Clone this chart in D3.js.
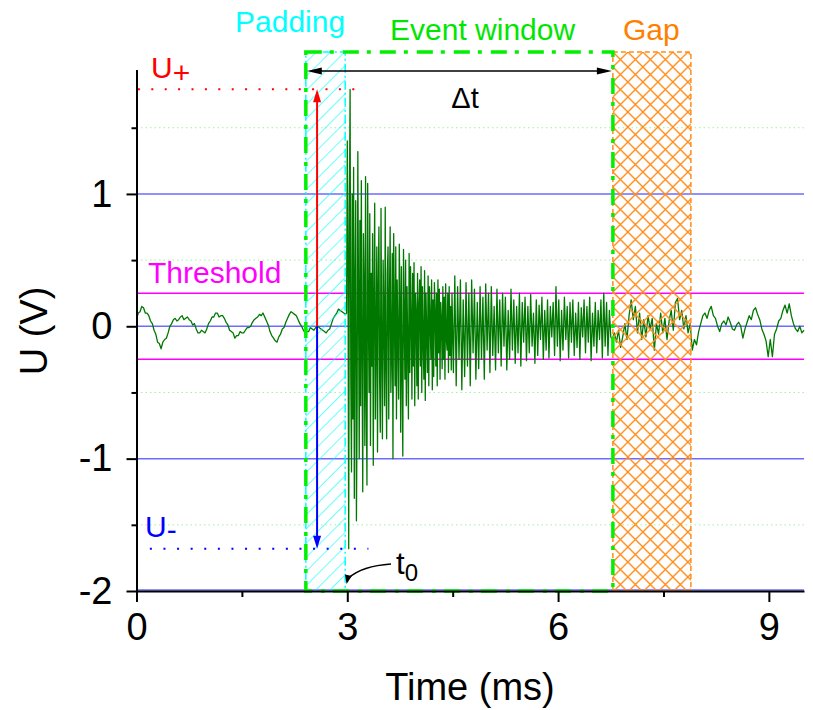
<!DOCTYPE html>
<html><head><meta charset="utf-8">
<script src="https://cdn.jsdelivr.net/npm/d3@7"></script>
<style>
body{margin:0;background:#fff}
svg{display:block}
text{font-family:"Liberation Sans",Arial,Helvetica,sans-serif}
</style>
</head><body>
<svg id="c" width="813" height="710"></svg>
<script>
// ---------- data ----------
const xMajorTicks = [0, 3, 6, 9];
const xMinorTicks = [1.5, 4.5, 7.5];
const yMajorTicks = [-2, -1, 0, 1];
const yMinorTicks = [-1.5, -0.5, 0.5, 1.5];
const thresholdLevels = [0.25, -0.25];
const uPlusLevel = 1.79;
const uMinusLevel = -1.68;
const uPlusSpan = [0.02, 3.14];
const uMinusSpan = [0.19, 3.30];
const paddingRange = [2.41, 2.97];
const eventRange = [2.41, 6.78];
const gapRange = [6.78, 7.89];
const t0 = 2.99;
const levelArrowTime = 2.57;

const preStart = 0, preStep = 0.025;
const preValues = [
  0.05, 0.10, 0.11, 0.15, 0.14, 0.10, 0.10, 0.08, 0.04, 0.02,
  -0.03, -0.06, -0.12, -0.13, -0.17, -0.12, -0.10, -0.09, -0.05, 0.00,
  0.02, 0.05, 0.06, 0.04, 0.05, 0.07, 0.08, 0.05, 0.06, 0.07,
  0.05, 0.04, 0.01, 0.02, -0.02, -0.05, -0.05, -0.03, -0.04, -0.05,
  -0.02, 0.02, 0.04, 0.07, 0.07, 0.10, 0.10, 0.07, 0.08, 0.08,
  0.06, 0.03, 0.01, -0.03, -0.04, -0.05, -0.09, -0.07, -0.07, -0.04,
  -0.05, -0.05, -0.03, -0.01, -0.01, 0.00, 0.03, 0.05, 0.06, 0.07,
  0.09, 0.08, 0.10, 0.07, 0.04, 0.01, -0.04, -0.07, -0.09, -0.11,
  -0.12, -0.08, -0.06, -0.02, -0.01, 0.03, 0.06, 0.09, 0.11, 0.10,
  0.09, 0.08, 0.05, 0.02, 0.00, -0.03, -0.05, -0.04, -0.04, -0.01,
  -0.02, -0.03, -0.01, 0.00, -0.01, -0.02, -0.03, -0.04, -0.05, -0.03,
  -0.02, 0.02, 0.06, 0.08, 0.10, 0.13, 0.12, 0.11, 0.10, 0.09
];
const burstStart = 2.99, burstStep = 0.01;
const burstValues = [
  0.10, 1.40, 0.60, -1.68, 0.90, 1.79, -0.40, -1.10, 1.00, -0.70,
  1.20, -1.30, 0.30, 0.95, -1.47, -0.60, 1.32, 0.20, -1.00, 0.80,
  -0.60, 1.10, -0.20, -1.25, 0.70, 0.30, -0.90, 1.13, -0.50, -1.20,
  1.08, 0.10, -0.50, 0.85, -0.90, 0.40, -0.30, 0.70, -1.05, 0.20,
  0.93, -0.70, -0.10, 0.60, -0.95, 0.30, 0.75, -0.40, -0.80, 0.89,
  -0.20, -0.85, 0.50, 0.10, -0.60, 0.90, -0.30, -0.85, 0.40, 0.60,
  -0.70, 0.20, 0.75, -0.50, -0.20, 0.55, -1.00, 0.70, 0.10, -0.45,
  0.60, -0.70, 0.35, -0.10, -0.55, 0.62, 0.20, -0.80, 0.45, -0.30,
  -0.98, 0.58, 0.10, -0.40, 0.50, -0.60, 0.30, -0.15, -0.70, 0.55,
  -0.35, 0.45, 0.05, -0.55, 0.40, -0.30, 0.48, -0.60, 0.25, 0.10,
  -0.45, 0.40, -0.55, 0.15, 0.35, -0.30, 0.45, -0.50, 0.30, -0.10,
  -0.40, 0.42, -0.56, 0.25, -0.05, -0.35, 0.38, -0.45, 0.30, 0.05,
  -0.25, 0.35, -0.48, 0.20, -0.38, 0.33, 0.10, -0.30, 0.25, -0.45,
  0.35, -0.20, 0.28, -0.40, 0.18, 0.05, -0.32, 0.30, -0.25, 0.22,
  -0.40, 0.32, -0.10, -0.18, 0.25, -0.35, 0.30, -0.22, 0.15, -0.33
];
const decayStart = 4.49, decayStep = 0.02;
const decayValues = [
  0.25, -0.35, 0.38, -0.45, 0.30,
  -0.25, 0.35, -0.48, 0.20, -0.38, 0.33, -0.30, 0.25, -0.45, 0.35,
  -0.20, 0.28, -0.40, 0.18, -0.32, 0.30, -0.25, 0.22, -0.40, 0.32,
  -0.18, 0.25, -0.35, 0.30, -0.22, 0.15, -0.33, 0.28, -0.20, 0.20,
  -0.30, 0.25, -0.15, 0.22, -0.33, 0.12, -0.25, 0.28, -0.18, 0.20,
  -0.28, 0.15, -0.20, 0.25, -0.30, 0.18, -0.12, 0.22, -0.26, 0.15,
  -0.20, 0.24, -0.15, 0.10, -0.28, 0.20, -0.22, 0.16, -0.10, 0.22,
  -0.25, 0.12, -0.18, 0.20, -0.24, 0.15, -0.08, 0.18, -0.22, 0.30,
  -0.15, 0.20, -0.26, 0.12, -0.18, 0.22, -0.10, 0.15, -0.24, 0.18,
  -0.12, 0.20, -0.22, 0.10, -0.16, 0.18, -0.25, 0.14, -0.08, 0.20,
  -0.20, 0.15, -0.12, 0.22, -0.26, 0.10, -0.15, 0.18, -0.20, 0.12,
  -0.10, 0.20, -0.24, 0.25, -0.15, 0.18, -0.22, 0.12, -0.08, -0.10
];
const postStart = 6.80, postStep = 0.03;
const postValues = [
  -0.05, -0.12, -0.03, -0.16, -0.08, 0.02, -0.10, 0.08, 0.20, 0.05,
  0.15, -0.05, 0.10, -0.10, 0.05, -0.08, 0.08, -0.02, 0.06, -0.18,
  0.02, -0.06, 0.10, -0.05, 0.06, -0.10, 0.04, 0.12, -0.03, 0.18,
  0.21, 0.05, 0.12, -0.02, 0.08, -0.05, 0.02, -0.18, -0.10, -0.14,
  -0.04, 0.02, 0.08, 0.10, 0.06, 0.12, 0.15, 0.08, 0.06, 0.00,
  -0.04, 0.02, 0.04, 0.01, 0.07, 0.03, -0.02, -0.03, 0.01, 0.03,
  0.00, -0.09, -0.02, 0.03, 0.08, 0.05, 0.12, 0.14, 0.09, 0.05,
  -0.02, -0.06, -0.11, -0.23, -0.10, -0.23, -0.06, -0.02, 0.04, 0.06,
  0.12, 0.16, 0.10, 0.17, 0.08, 0.02, -0.02, -0.04, 0.00, -0.05,
  -0.03
];

// ---------- build ----------
const signal = [];
preValues.forEach((v, i) => signal.push([preStart + i * preStep, v]));
burstValues.forEach((v, i) => signal.push([burstStart + i * burstStep, v]));
decayValues.forEach((v, i) => signal.push([decayStart + i * decayStep, v]));
postValues.forEach((v, i) => signal.push([postStart + i * postStep, v]));

const svg = d3.select("#c");
const x = d3.scaleLinear().domain([0, 9.5]).range([136.5, 804]);
const y = d3.scaleLinear().domain([-2, 1.94]).range([591, 69.5]);
const FONT = '"Liberation Sans",Arial,sans-serif';

const defs = svg.append("defs");
const hatch = defs.append("pattern").attr("id", "hatch")
  .attr("patternUnits", "userSpaceOnUse").attr("width", 10).attr("height", 10)
  .attr("patternTransform", "rotate(45)");
hatch.append("line").attr("x1", 0).attr("y1", -2).attr("x2", 0).attr("y2", 12)
  .attr("stroke", "#00ffff").attr("stroke-width", 1.2);
const cross = defs.append("pattern").attr("id", "cross")
  .attr("patternUnits", "userSpaceOnUse").attr("width", 15).attr("height", 15)
  .attr("x", x(gapRange[0])).attr("y", 52);
cross.append("path").attr("d", "M-3,-3L18,18M18,-3L-3,18")
  .attr("stroke", "#ff8c1a").attr("stroke-width", 1.4).attr("fill", "none");

const x0 = x.range()[0], x1 = x.range()[1];

// minor grid
svg.append("g").selectAll("line").data(yMinorTicks).join("line")
  .attr("x1", x0).attr("x2", x1).attr("y1", d => y(d)).attr("y2", d => y(d))
  .attr("stroke", "#9cf59c").attr("stroke-width", 1).attr("stroke-dasharray", "1.5,3");
// major grid
svg.append("g").selectAll("line").data(yMajorTicks).join("line")
  .attr("x1", x0).attr("x2", x1).attr("y1", d => y(d) - (d === -2 ? 1 : 0)).attr("y2", d => y(d) - (d === -2 ? 1 : 0))
  .attr("stroke", "#6b6bff").attr("stroke-width", 1.5);
// threshold
svg.append("g").selectAll("line").data(thresholdLevels).join("line")
  .attr("x1", x0).attr("x2", x1).attr("y1", d => y(d)).attr("y2", d => y(d))
  .attr("stroke", "#ff00ff").attr("stroke-width", 1.5);

// signal
svg.append("path").datum(signal)
  .attr("d", d3.line().x(d => x(d[0])).y(d => y(d[1])))
  .attr("fill", "none").attr("stroke", "#007800").attr("stroke-width", 1.3)
  .attr("stroke-linejoin", "round");

const yTop = 52, yBot = y(-2);
// padding
svg.append("rect").attr("x", x(paddingRange[0])).attr("y", yTop)
  .attr("width", x(paddingRange[1]) - x(paddingRange[0])).attr("height", yBot - yTop)
  .attr("fill", "url(#hatch)").attr("stroke", "#00ffff").attr("stroke-width", 1.5)
  .attr("stroke-dasharray", "9,3,2,3");
// gap
svg.append("rect").attr("x", x(gapRange[0])).attr("y", yTop)
  .attr("width", x(gapRange[1]) - x(gapRange[0])).attr("height", yBot - yTop)
  .attr("fill", "url(#cross)").attr("stroke", "#ff8c1a").attr("stroke-width", 1.5)
  .attr("stroke-dasharray", "5,3");
// event window
svg.append("rect").attr("x", x(eventRange[0])).attr("y", yTop)
  .attr("width", x(eventRange[1]) - x(eventRange[0])).attr("height", yBot - yTop)
  .attr("fill", "none").attr("stroke", "#00f000").attr("stroke-width", 3.5)
  .attr("stroke-dasharray", "16,8,4,9");

// U+ / U- dotted
svg.append("line").attr("x1", x(uPlusSpan[0])).attr("x2", x(uPlusSpan[1]))
  .attr("y1", y(uPlusLevel)).attr("y2", y(uPlusLevel))
  .attr("stroke", "#ff0000").attr("stroke-width", 2).attr("stroke-dasharray", "2,11.4");
svg.append("line").attr("x1", x(uMinusSpan[0])).attr("x2", x(uMinusSpan[1]))
  .attr("y1", y(uMinusLevel)).attr("y2", y(uMinusLevel))
  .attr("stroke", "#0000ff").attr("stroke-width", 2).attr("stroke-dasharray", "2,11.6");

// arrows
function arrowHead(tipX, tipY, dir, len, half, color) {
  const [dx, dy] = dir;
  const bx = tipX - dx * len, by = tipY - dy * len;
  const px = -dy, py = dx;
  svg.append("path")
    .attr("d", `M${tipX},${tipY}L${bx + px * half},${by + py * half}L${bx - px * half},${by - py * half}Z`)
    .attr("fill", color);
}
const ax = x(levelArrowTime);
svg.append("line").attr("x1", ax).attr("x2", ax).attr("y1", y(0)).attr("y2", y(uPlusLevel) + 10)
  .attr("stroke", "#ff0000").attr("stroke-width", 2);
arrowHead(ax, y(uPlusLevel), [0, -1], 13, 4, "#ff0000");
svg.append("line").attr("x1", ax).attr("x2", ax).attr("y1", y(0)).attr("y2", y(uMinusLevel) - 10)
  .attr("stroke", "#0000ff").attr("stroke-width", 2);
arrowHead(ax, y(uMinusLevel), [0, 1], 13, 4, "#0000ff");

// delta t arrow
const dtY = 71;
svg.append("line").attr("x1", x(eventRange[0]) + 10).attr("x2", x(eventRange[1]) - 10)
  .attr("y1", dtY).attr("y2", dtY).attr("stroke", "#000").attr("stroke-width", 1.5);
arrowHead(x(eventRange[0]) + 1, dtY, [-1, 0], 15, 3.5, "#000");
arrowHead(x(eventRange[1]) - 1, dtY, [1, 0], 15, 3.5, "#000");

// t0 curved arrow
const tx = x(t0);
svg.append("path").attr("d", `M391,564 Q362,566 ${tx + 2},578`)
  .attr("fill", "none").attr("stroke", "#000").attr("stroke-width", 1.5);
arrowHead(tx, 584, [-0.2, 0.98], 9, 3.5, "#000");

// axes
const gx = svg.append("g").attr("transform", `translate(0,${y(-2)})`);
gx.call(d3.axisBottom(x).tickValues(xMajorTicks).tickSize(11).tickPadding(11).tickSizeOuter(0).tickFormat(d => String(d)));
const gxm = svg.append("g").attr("transform", `translate(0,${y(-2)})`);
gxm.call(d3.axisBottom(x).tickValues(xMinorTicks).tickSize(6).tickSizeOuter(0).tickFormat(""));
const gy = svg.append("g").attr("transform", `translate(${x(0)},0)`);
gy.call(d3.axisLeft(y).tickValues(yMajorTicks).tickSize(10).tickPadding(14).tickSizeOuter(0).tickFormat(d => String(d)));
const gym = svg.append("g").attr("transform", `translate(${x(0)},0)`);
gym.call(d3.axisLeft(y).tickValues(yMinorTicks).tickSize(5).tickSizeOuter(0).tickFormat(""));
[gx, gxm, gy, gym].forEach(g => {
  g.selectAll("path.domain").attr("stroke", "#000").attr("stroke-width", 2);
  g.selectAll(".tick line").attr("stroke", "#000").attr("stroke-width", 2);
  g.selectAll("text").attr("font-size", 38).attr("font-family", FONT).attr("fill", "#000");
});
gxm.select("path.domain").remove();
gym.select("path.domain").remove();

// axis titles
svg.append("text").attr("x", 470).attr("y", 700).attr("text-anchor", "middle")
  .attr("font-size", 38).attr("font-family", FONT).text("Time (ms)");
svg.append("text").attr("transform", "translate(47,331) rotate(-90)").attr("text-anchor", "middle")
  .attr("font-size", 38).attr("font-family", FONT).text("U (V)");

// labels
function label(txt, px, py, size, color, anchor) {
  return svg.append("text").attr("x", px).attr("y", py).attr("font-size", size)
    .attr("font-family", FONT).attr("fill", color).attr("text-anchor", anchor || "start").text(txt);
}
label("Padding", 235, 32, 30, "#00ffff");
label("Event window", 390, 40, 30, "#00e600");
label("Gap", 623, 40, 30, "#ff8000");
label("Threshold", 148, 283, 30, "#ff00ff");
const up = label("U", 151, 78, 30, "#ff0000");
up.append("tspan").attr("dy", 5).text("+");
const um = label("U", 145, 537, 30, "#0000ff");
um.append("tspan").attr("dy", 3).text("-");
label("\u0394t", 465, 108, 29, "#000", "middle");
const tt = label("t", 396, 574, 31, "#000");
tt.append("tspan").attr("dy", 7).attr("font-size", 24).text("0");
</script>
</body></html>
